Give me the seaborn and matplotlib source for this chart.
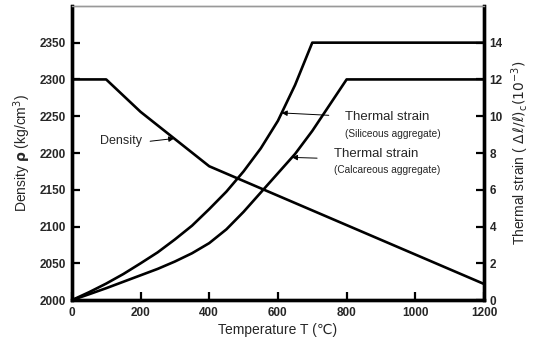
import numpy as np
import pandas as pd
import matplotlib
matplotlib.use("Agg")
import matplotlib.pyplot as plt
import seaborn as sns

# Density of concrete vs temperature
density_temp = [0, 100, 200, 400, 1200]
density_vals = [2300, 2300, 2256, 2182, 2022]

# Thermal strain (x 10^-3), siliceous aggregate
sil_temp = [0, 50, 100, 150, 200, 250, 300, 350, 400, 450, 500, 550, 600, 650, 700, 1200]
sil_vals = [0, 0.43, 0.9, 1.42, 2.0, 2.6, 3.3, 4.05, 4.95, 5.9, 7.0, 8.25, 9.75, 11.7, 14.0, 14.0]

# Thermal strain (x 10^-3), calcareous aggregate
cal_temp = [0, 50, 100, 150, 200, 250, 300, 350, 400, 450, 500, 550, 600, 650, 700, 750, 800, 1200]
cal_vals = [0, 0.32, 0.65, 1.0, 1.35, 1.7, 2.1, 2.55, 3.1, 3.85, 4.8, 5.85, 6.9, 7.95, 9.2, 10.6, 12.0, 12.0]

x_ticks = [0, 200, 400, 600, 800, 1000, 1200]
rho_ticks = [2000, 2050, 2100, 2150, 2200, 2250, 2300, 2350]
strain_ticks = [0, 2, 4, 6, 8, 10, 12, 14]

sns.set_style("ticks")
plt.rcParams["font.family"] = ["Liberation Sans", "DejaVu Sans"]
plt.rcParams["mathtext.fontset"] = "dejavusans"

fig = plt.figure(figsize=(5.36, 3.45), dpi=100)
ax = fig.add_axes([0.134, 0.130, 0.769, 0.853])
ax2 = ax.twinx()

dens_df = pd.DataFrame({"T": density_temp, "rho": density_vals})
sil_df = pd.DataFrame({"T": sil_temp, "strain": sil_vals})
cal_df = pd.DataFrame({"T": cal_temp, "strain": cal_vals})

sns.lineplot(data=dens_df, x="T", y="rho", ax=ax, color="black", lw=1.9)
sns.lineplot(data=sil_df, x="T", y="strain", ax=ax2, color="black", lw=1.9)
sns.lineplot(data=cal_df, x="T", y="strain", ax=ax2, color="black", lw=1.9)

ax.set_xlim(0, 1200)
ax.set_ylim(2000, 2400)
ax2.set_ylim(0, 16)
ax.set_xticks(x_ticks)
ax.set_yticks(rho_ticks)
ax2.set_yticks(strain_ticks)

for a in (ax, ax2):
    a.tick_params(direction="in", length=6, width=1.6, pad=4, color="black")
    for lab in a.get_xticklabels() + a.get_yticklabels():
        lab.set_fontsize(8.5)
        lab.set_fontweight("bold")
ax.tick_params(axis="x", pad=5)

for a in (ax, ax2):
    for side in ("left", "bottom", "right"):
        a.spines[side].set_visible(True)
        a.spines[side].set_linewidth(2.4)
        a.spines[side].set_color("black")
    a.spines["top"].set_visible(True)
    a.spines["top"].set_linewidth(1.0)
    a.spines["top"].set_color("#999999")

ax.set_xlabel("Temperature T (\u2103)", fontsize=10, labelpad=3)
ax.set_ylabel(r"Density $\mathbf{\rho}$ (kg/cm$^3$)", fontsize=10, labelpad=5)
ax2.set_ylabel(r"Thermal strain ( $\Delta\,\ell/\ell)_{\rm c}(10^{-3})$", fontsize=10, labelpad=5)

arrow = dict(arrowstyle="-|>", color="black", lw=0.7, mutation_scale=8,
             shrinkA=0, shrinkB=0)

# Density label
t_d = 298
ax.annotate("", xy=(t_d, np.interp(t_d, density_temp, density_vals)),
            xytext=(228, 2216), arrowprops=arrow)
ax.text(205, 2216, "Density", ha="right", va="center", fontsize=9)

# Siliceous strain label
t_s = 611
ax2.annotate("", xy=(t_s, np.interp(t_s, sil_temp, sil_vals)),
             xytext=(748, 10.05), arrowprops=arrow)
ax2.text(795, 9.95, "Thermal strain", ha="left", va="center", fontsize=9.5)
ax2.text(795, 9.05, "(Siliceous aggregate)", ha="left", va="center", fontsize=7.3)

# Calcareous strain label
t_c = 641
ax2.annotate("", xy=(t_c, np.interp(t_c, cal_temp, cal_vals)),
             xytext=(714, 7.72), arrowprops=arrow)
ax2.text(762, 7.95, "Thermal strain", ha="left", va="center", fontsize=9.5)
ax2.text(762, 7.05, "(Calcareous aggregate)", ha="left", va="center", fontsize=7.3)

fig.savefig("out.png", dpi=100)
